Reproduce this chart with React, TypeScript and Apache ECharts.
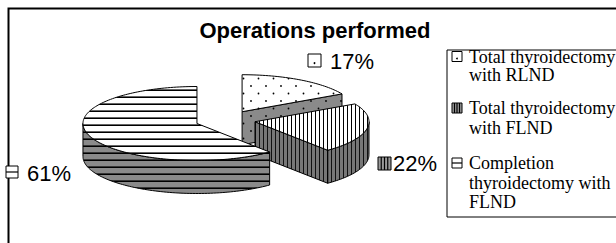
import React, { useEffect, useRef } from 'react';
import * as echarts from 'echarts';

// ---------- data ----------
const TITLE = 'Operations performed';
const CATEGORIES = [
  'Total thyroidectomy with RLND',
  'Total thyroidectomy with FLND',
  'Completion thyroidectomy with FLND',
];
const LEGEND_LINES = [
  ['Total thyroidectomy', 'with RLND'],
  ['Total thyroidectomy', 'with FLND'],
  ['Completion', 'thyroidectomy with', 'FLND'],
];
const VALUES = [17, 22, 61];

// ---------- layout / style (page coordinates) ----------
const W = 616;
const H = 243;
const PIE = { cx: 227, cy: 120, rx: 114, ry: 37, depth: 33 };
const EXPLODE = [0.26, 0.25, 0.28];
const KINDS = ['dot', 'v', 'h'];
const LABEL_LAYOUT = [
  { key: [308, 54], size: 13, text: [330, 61.5] },
  { key: [378, 157], size: 13, text: [393, 163.5] },
  { key: [6, 166], size: 12, text: [27, 173.5] },
];
const LEGEND_BOX = { x: 447, y: 50, w: 220, h: 167 };
const LEGEND_TEXT_X = 469;
const LEGEND_KEY_X = 452;
const LEGEND_LINE_Y = [
  [56.5, 75],
  [108, 128],
  [163, 183, 202],
];
const SANS = 'Liberation Sans, Arial, sans-serif';
const SERIF = 'Liberation Serif, Times New Roman, serif';

const tile = (w: number, h: number, body: string) => ({
  image:
    'data:image/svg+xml;charset=utf-8,' +
    encodeURIComponent(
      `<svg xmlns="http://www.w3.org/2000/svg" width="${w}" height="${h}" viewBox="0 0 ${w} ${h}">${body}</svg>`
    ),
  repeat: 'repeat',
  imageWidth: w,
  imageHeight: h,
});

const PATTERNS: Record<string, { top: any; side: any }> = {
  h: {
    top: tile(6, 7, '<rect width="6" height="7" fill="#fff"/><rect y="5.4" width="6" height="1.6" fill="#000"/>'),
    side: tile(6, 7, '<rect width="6" height="7" fill="#8a8a8a"/><rect y="5.4" width="6" height="1.6" fill="#000"/>'),
  },
  v: {
    top: tile(4, 6, '<rect width="4" height="6" fill="#fff"/><rect x="3" width="1.1" height="6" fill="#000"/>'),
    side: tile(4, 6, '<rect width="4" height="6" fill="#777"/><rect x="3" width="1.3" height="6" fill="#111"/>'),
  },
  dot: {
    top: tile(
      15,
      15,
      '<rect width="15" height="15" fill="#fff"/><circle cx="3.5" cy="3.5" r="0.9" fill="#000"/><circle cx="11" cy="11" r="0.9" fill="#000"/>'
    ),
    side: tile(
      15,
      15,
      '<rect width="15" height="15" fill="#8a8a8a"/><circle cx="3.5" cy="3.5" r="0.9" fill="#000"/><circle cx="11" cy="11" r="0.9" fill="#000"/>'
    ),
  },
};

function keyEls(kind: string, x: number, y: number, size: number) {
  const els: any[] = [];
  if (kind === 'v') {
    els.push({ type: 'rect', shape: { x, y, width: size, height: size }, style: { fill: '#9a9a9a', stroke: '#000', lineWidth: 1 } });
    for (let k = 1; k <= 3; k++) {
      const lx = x + (size * k) / 4;
      els.push({ type: 'line', shape: { x1: lx, y1: y, x2: lx, y2: y + size }, style: { stroke: '#000', lineWidth: 1.2 } });
    }
  } else {
    els.push({ type: 'rect', shape: { x, y, width: size, height: size }, style: { fill: '#fff', stroke: '#000', lineWidth: 1 } });
    if (kind === 'h') {
      els.push({ type: 'line', shape: { x1: x, y1: y + size / 2, x2: x + size, y2: y + size / 2 }, style: { stroke: '#000', lineWidth: 1.2 } });
    } else {
      els.push({ type: 'circle', shape: { cx: x + size / 2, cy: y + size * 0.7, r: 0.9 }, style: { fill: '#000' } });
    }
  }
  return els;
}

const TAU = Math.PI * 2;
const TOTAL = VALUES.reduce((a, b) => a + b, 0);
const STARTS: number[] = [];
{
  let acc = 0;
  VALUES.forEach((v) => {
    STARTS.push((acc / TOTAL) * TAU);
    acc += v;
  });
}

export default function App() {
  const ref = useRef<HTMLDivElement>(null);
  useEffect(() => {
    if (!ref.current) return;
    const chart = echarts.init(ref.current, undefined, { renderer: 'svg' });

    const renderItem = (params: any, api: any) => {
      const i = params.dataIndex;
      const v = api.value(0) as number;
      const a0 = STARTS[i];
      const a1 = a0 + (v / TOTAL) * TAU;
      const mid = (a0 + a1) / 2;
      const cx = PIE.cx + EXPLODE[i] * PIE.rx * Math.sin(mid);
      const cy = PIE.cy - EXPLODE[i] * PIE.ry * Math.cos(mid);
      const D = PIE.depth;
      const P = (a: number, dy = 0) => [cx + PIE.rx * Math.sin(a), cy + dy - PIE.ry * Math.cos(a)];
      const arc = (s: number, e: number, dy: number) => {
        const n = Math.max(2, Math.ceil(Math.abs(e - s) / (Math.PI / 120)));
        const pts: number[][] = [];
        for (let k = 0; k <= n; k++) pts.push(P(s + ((e - s) * k) / n, dy));
        return pts;
      };
      const pat = PATTERNS[KINDS[i]];
      const stroke = { stroke: '#000', lineWidth: 1, lineJoin: 'round' };
      const children: any[] = [];
      const s0 = Math.max(a0, Math.PI / 2);
      const s1 = Math.min(a1, (3 * Math.PI) / 2);
      if (s1 > s0) {
        children.push({
          type: 'polygon',
          shape: { points: [...arc(s0, s1, 0), ...arc(s1, s0, D)] },
          style: { fill: pat.side, ...stroke },
        });
      }
      const cut = (a: number) => {
        const r = P(a, 0);
        return {
          type: 'polygon',
          shape: { points: [[cx, cy], r, [r[0], r[1] + D], [cx, cy + D]] },
          style: { fill: pat.side, ...stroke },
        };
      };
      if (Math.sin(a0) < -1e-6) children.push(cut(a0));
      if (Math.sin(a1) > 1e-6) children.push(cut(a1));
      children.push({
        type: 'polygon',
        shape: { points: [[cx, cy], ...arc(a0, a1, 0)] },
        style: { fill: pat.top, ...stroke },
      });
      const L = LABEL_LAYOUT[i];
      children.push(...keyEls(KINDS[i], L.key[0], L.key[1], L.size));
      children.push({
        type: 'text',
        x: L.text[0],
        y: L.text[1],
        style: {
          text: Math.round((v / TOTAL) * 100) + '%',
          fontSize: 22,
          fontFamily: SANS,
          fill: '#000',
          align: 'left',
          verticalAlign: 'middle',
          textAlign: 'left',
          textVerticalAlign: 'middle',
        },
      });
      return { type: 'group', children };
    };

    const legendEls: any[] = [
      {
        type: 'rect',
        shape: { x: LEGEND_BOX.x, y: LEGEND_BOX.y, width: LEGEND_BOX.w, height: LEGEND_BOX.h },
        style: { fill: '#fff', stroke: '#000', lineWidth: 1 },
      },
    ];
    LEGEND_LINES.forEach((lines, i) => {
      legendEls.push(...keyEls(KINDS[i], LEGEND_KEY_X, LEGEND_LINE_Y[i][0] - 5, 10));
      lines.forEach((t, j) => {
        legendEls.push({
          type: 'text',
          x: LEGEND_TEXT_X,
          y: LEGEND_LINE_Y[i][j],
          style: {
            text: t,
            fontSize: 18,
            fontFamily: SERIF,
            fill: '#000',
            align: 'left',
            verticalAlign: 'middle',
            textAlign: 'left',
            textVerticalAlign: 'middle',
          },
        });
      });
    });

    chart.setOption({
      animation: false,
      graphic: [
        {
          type: 'rect',
          z: 0,
          shape: { x: 8.5, y: 8.5, width: 800, height: 600 },
          style: { fill: '#fff', stroke: '#000', lineWidth: 2 },
        },
        {
          type: 'text',
          z: 10,
          x: 315,
          y: 30,
          style: {
            text: TITLE,
            fontSize: 22,
            fontWeight: 'bold',
            fontFamily: SANS,
            fill: '#000',
            align: 'center',
            verticalAlign: 'middle',
            textAlign: 'center',
            textVerticalAlign: 'middle',
          },
        },
        { type: 'group', z: 5, children: legendEls },
      ],
      series: [
        {
          type: 'custom',
          name: 'Operations',
          coordinateSystem: 'none',
          silent: true,
          z: 3,
          data: VALUES.map((v, i) => ({ value: [v], name: CATEGORIES[i] })),
          renderItem,
        },
      ],
    });
    return () => chart.dispose();
  }, []);
  return <div ref={ref} style={{ position: 'absolute', left: 0, top: 0, width: W, height: H }} />;
}
